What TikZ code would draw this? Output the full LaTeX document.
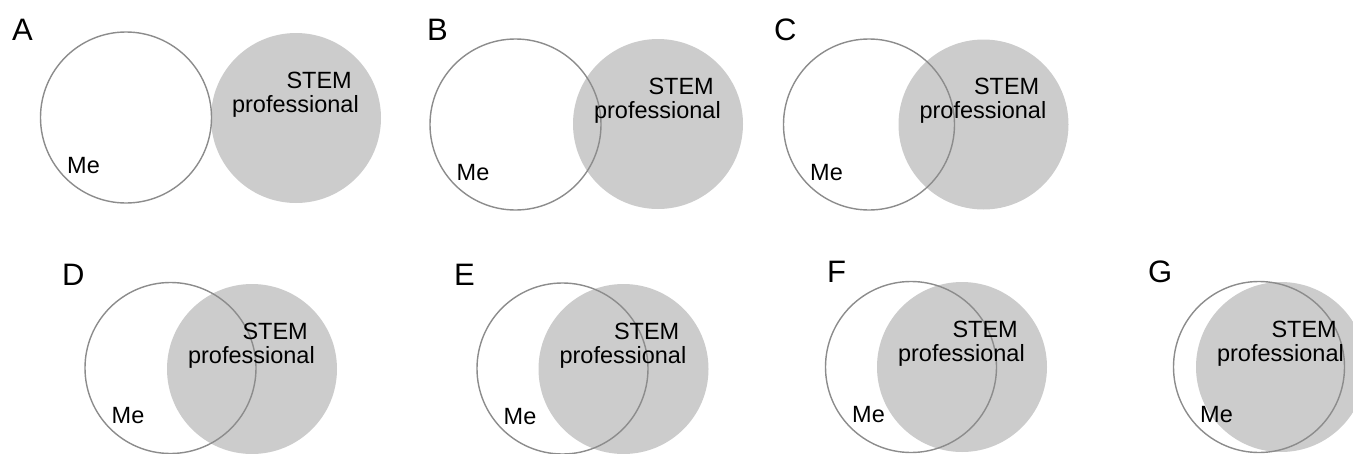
\documentclass[tikz,border=0pt]{standalone}
\usepackage{fontspec}
\setmainfont{Liberation Sans}
\definecolor{stemgray}{HTML}{CCCCCC}
\definecolor{circgray}{HTML}{8C8C8C}
\tikzset{
  mecircle/.style={draw=circgray, line width=1.4pt},
  procircle/.style={fill=stemgray},
  txt/.style={inner sep=0pt, text=black, font=\fontsize{23.5}{23.5}\selectfont},
  lab/.style={inner sep=0pt, text=black, font=\fontsize{31}{31}\selectfont, anchor=base west},
}
% #1 name, #2 #3 Me centre, #4 #5 STEM centre, #6 label, #7 #8 label position
\newcommand\vennpanel[8]{%
  \fill[white] (#2,#3) circle (85.5pt);
  \fill[procircle] (#4,#5) circle (85pt);
  \draw[mecircle] (#2,#3) circle (85.5pt);
  \node[txt, anchor=base east] (stem#1) at ({#4+56},{#5-30}) {STEM};
  \node[txt, anchor=base east] (prof#1) at ({#4+63},{#5-6}) {professional};
  \node[txt, anchor=base west] (me#1) at ({#2-59},{#3+55.5}) {Me};
  \node[lab] (lab#1) at (#7,#8) {#6};
}
\begin{document}
\begin{tikzpicture}[x=1pt,y=-1pt]
  \useasboundingbox (0,0) rectangle (1353,453);
  \vennpanel{A}{126}{117.5}{296}{118}{A}{12}{40}
  \vennpanel{B}{515.5}{124.5}{658}{124}{B}{427}{40}
  \vennpanel{C}{869}{124.5}{983.5}{124.5}{C}{774}{40}
  \vennpanel{D}{170.5}{368}{252}{369}{D}{62}{285}
  \vennpanel{E}{562.5}{368.5}{623.5}{369}{E}{454}{285}
  \vennpanel{F}{911}{367}{962}{367}{F}{827}{282}
  \vennpanel{G}{1259}{367}{1281}{367}{G}{1148}{282}
\end{tikzpicture}
\end{document}
